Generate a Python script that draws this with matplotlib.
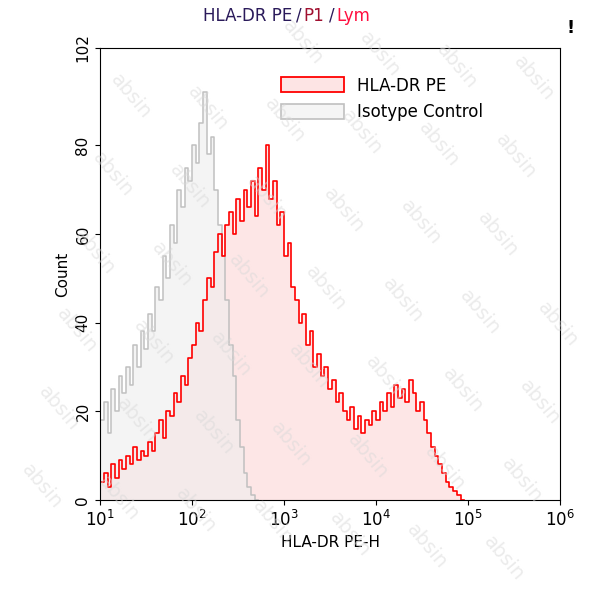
import numpy as np
import matplotlib
matplotlib.use("Agg")
import matplotlib.pyplot as plt
from matplotlib.patches import Patch

red_counts = [4,6,3,8,5,9,7,10,8,12,9,11,10,
              13,11,15,18,14,20,19,24,22,28,26,32,
              35,40,38,45,50,48,56,60,55,62,
              65,60,68,63,70,66,72,64,75,70,
              80,68,72,62,65,55,58,48,45,40,
              42,35,38,30,33,28,30,25,27,22,
              24,20,18,21,16,19,15,18,17,20,
              18,22,20,24,21,26,23,25,22,27,
              24,20,22,18,15,12,10,8,6,4,
              3,2,1,0]
gray_counts = [18,22,15,25,20,28,24,30,26,35,30,38,34,
               42,38,48,45,55,50,62,58,70,66,75,72,
               80,76,85,92,78,82,70,62,55,45,
               35,28,18,12,6,3,1,0]
log_start = 1.0
log_step = 0.04
xticks = [1, 2, 3, 4, 5, 6]
yticks = [0, 20, 40, 60, 80, 102]

fig = plt.figure(figsize=(5.93, 6.0), dpi=100)
ax = fig.add_axes([0.169, 0.167, 0.775, 0.753])

def step_xy(counts):
    edges = 10 ** (log_start + log_step * np.arange(len(counts) + 1))
    return edges, np.append(counts, counts[-1])

er, vr = step_xy(red_counts)
eg, vg = step_xy(gray_counts)
ax.fill_between(er, vr, step='post', color='#fde4e4', alpha=0.9, lw=0)
ax.fill_between(eg, vg, step='post', color='#eeeeee', alpha=0.6, lw=0)
ax.step(eg, vg, where='post', color='#c0c0c0', lw=1.1)
ax.step(er, vr, where='post', color='#ff0000', lw=1.2)

ax.set_xscale('log')
ax.set_xlim(10, 1e6)
ax.set_ylim(0, 102)
ax.set_xticks([10.0 ** t for t in xticks])
ax.set_xticklabels([f'$10^{{{t}}}$' for t in xticks], fontsize=12)
ax.minorticks_off()
ax.set_yticks(yticks)
ax.set_yticklabels([str(t) for t in yticks], rotation=90, va='center', fontsize=11)
ax.set_xlabel('HLA-DR PE-H', fontsize=11)
ax.set_ylabel('Count', fontsize=11)

# watermark (kept inside the figure)
for i in range(8):
    for j in range(8):
        x = 0.04 + i * 0.13 + j * 0.03
        y = 0.06 + j * 0.13 - i * 0.02
        if 0.04 < x < 0.96 and 0.05 < y < 0.93:
            fig.text(x, y, 'absin', rotation=-50, fontsize=14, color='#d8d8d8',
                     alpha=0.5, ha='center', va='center')

fig.text(0.342, 0.965, 'HLA-DR PE', color='#2a1a5a', fontsize=12)
fig.text(0.500, 0.965, '/', color='#2a1a5a', fontsize=12)
fig.text(0.511, 0.965, 'P1', color='#a01030', fontsize=12)
fig.text(0.555, 0.965, '/', color='#2a1a5a', fontsize=12)
fig.text(0.567, 0.965, 'Lym', color='#ff1040', fontsize=12)
fig.text(0.955, 0.945, '!', fontsize=13, fontweight='bold')

handles = [Patch(facecolor='#fde4e4', edgecolor='#ff0000', lw=1.3),
           Patch(facecolor='#f5f5f5', edgecolor='#c0c0c0', lw=1.2)]
ax.legend(handles, ['HLA-DR PE', 'Isotype Control'], loc='upper left',
          bbox_to_anchor=(0.36, 0.97), frameon=False, fontsize=12,
          handlelength=3.8, handleheight=1.0)

fig.savefig('out.png', dpi=100)
